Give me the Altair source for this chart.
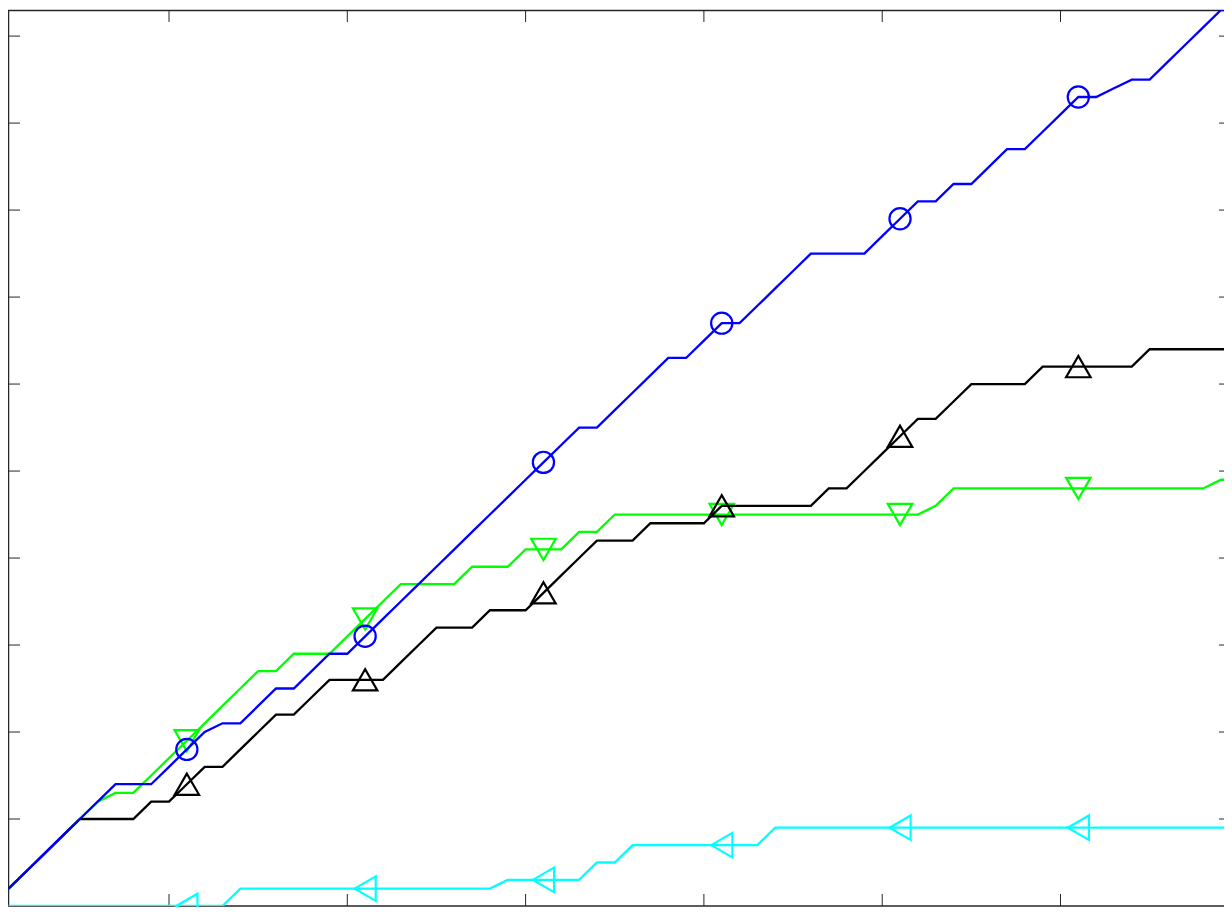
import altair as alt
import pandas as pd

# ---------------- data ----------------
x_vals = list(range(1, 71))

blue_vals = [1, 2, 3, 4, 5, 6, 7, 7, 7, 8,
             9, 10, 10.5, 10.5, 11.5, 12.5, 12.5, 13.5, 14.5, 14.5,
             15.5, 16.5, 17.5, 18.5, 19.5, 20.5, 21.5, 22.5, 23.5, 24.5,
             25.5, 26.5, 27.5, 27.5, 28.5, 29.5, 30.5, 31.5, 31.5, 32.5,
             33.5, 33.5, 34.5, 35.5, 36.5, 37.5, 37.5, 37.5, 37.5, 38.5,
             39.5, 40.5, 40.5, 41.5, 41.5, 42.5, 43.5, 43.5, 44.5, 45.5,
             46.5, 46.5, 47, 47.5, 47.5, 48.5, 49.5, 50.5, 51.5, 51.5]

black_vals = [1, 2, 3, 4, 5, 5, 5, 5, 6, 6,
              7, 8, 8, 9, 10, 11, 11, 12, 13, 13,
              13, 13, 14, 15, 16, 16, 16, 17, 17, 17,
              18, 19, 20, 21, 21, 21, 22, 22, 22, 22,
              23, 23, 23, 23, 23, 23, 24, 24, 25, 26,
              27, 28, 28, 29, 30, 30, 30, 30, 31, 31,
              31, 31, 31, 31, 32, 32, 32, 32, 32, 32]

green_vals = [1, 2, 3, 4, 5, 6, 6.5, 6.5, 7.5, 8.5,
              9.5, 10.5, 11.5, 12.5, 13.5, 13.5, 14.5, 14.5, 14.5, 15.5,
              16.5, 17.5, 18.5, 18.5, 18.5, 18.5, 19.5, 19.5, 19.5, 20.5,
              20.5, 20.5, 21.5, 21.5, 22.5, 22.5, 22.5, 22.5, 22.5, 22.5,
              22.5, 22.5, 22.5, 22.5, 22.5, 22.5, 22.5, 22.5, 22.5, 22.5,
              22.5, 22.5, 23, 24, 24, 24, 24, 24, 24, 24,
              24, 24, 24, 24, 24, 24, 24, 24, 24.5, 24.5]

cyan_vals = [0, 0, 0, 0, 0, 0, 0, 0, 0, 0,
             0, 0, 0, 1, 1, 1, 1, 1, 1, 1,
             1, 1, 1, 1, 1, 1, 1, 1, 1.5, 1.5,
             1.5, 1.5, 1.5, 2.5, 2.5, 3.5, 3.5, 3.5, 3.5, 3.5,
             3.5, 3.5, 3.5, 4.5, 4.5, 4.5, 4.5, 4.5, 4.5, 4.5,
             4.5, 4.5, 4.5, 4.5, 4.5, 4.5, 4.5, 4.5, 4.5, 4.5,
             4.5, 4.5, 4.5, 4.5, 4.5, 4.5, 4.5, 4.5, 4.5, 4.5]

marker_x = [11, 21, 31, 41, 51, 61]
x_ticks = [10, 20, 30, 40, 50, 60]
y_ticks = [5, 10, 15, 20, 25, 30, 35, 40, 45, 50]

# ---------------- layout ----------------
W, H = 1216, 896          # plot area (whole page fits the 1232x915 window)
TICK = 12
xs = alt.Scale(domain=[0.97, 0.97 + W / 17.83], nice=False, zero=False)
ys = alt.Scale(domain=[0, 51.5], nice=False, zero=False)
frame_col = "#262626"

one = pd.DataFrame({"k": [0]})
frame = [
    alt.Chart(one).mark_rule(color=frame_col, strokeWidth=1.6).encode(
        x=alt.value(0), x2=alt.value(W), y=alt.value(0.5)),
    alt.Chart(one).mark_rule(color=frame_col, strokeWidth=1.3).encode(
        x=alt.value(0), x2=alt.value(W), y=alt.value(H)),
    alt.Chart(one).mark_rule(color=frame_col, strokeWidth=1.3).encode(
        x=alt.value(0.6), y=alt.value(0), y2=alt.value(H)),
]

xt = pd.DataFrame({"v": x_ticks})
yt = pd.DataFrame({"v": y_ticks})
ticks = [
    alt.Chart(xt).mark_rule(color=frame_col, strokeWidth=1).encode(
        x=alt.X("v:Q", scale=xs, axis=None), y=alt.value(H - TICK), y2=alt.value(H)),
    alt.Chart(xt).mark_rule(color=frame_col, strokeWidth=1).encode(
        x=alt.X("v:Q", scale=xs, axis=None), y=alt.value(0), y2=alt.value(TICK)),
    alt.Chart(yt).mark_rule(color=frame_col, strokeWidth=1).encode(
        y=alt.Y("v:Q", scale=ys, axis=None), x=alt.value(0), x2=alt.value(TICK)),
    alt.Chart(yt).mark_rule(color=frame_col, strokeWidth=1).encode(
        y=alt.Y("v:Q", scale=ys, axis=None), x=alt.value(W - 5), x2=alt.value(W)),
]


def series_layers(vals, color, shape, size):
    df = pd.DataFrame({"x": x_vals, "y": vals})
    base = alt.Chart(df)
    enc = dict(x=alt.X("x:Q", scale=xs, axis=None),
               y=alt.Y("y:Q", scale=ys, axis=None))
    line = base.mark_line(color=color, strokeWidth=2.3, clip=True).encode(**enc)
    pts = base.transform_filter(
        alt.FieldOneOfPredicate(field="x", oneOf=marker_x)
    ).mark_point(shape=shape, filled=False, color=color, strokeWidth=2.2,
                 size=size, opacity=1).encode(**enc)
    return [line, pts]


layers = frame + ticks
layers += series_layers(cyan_vals, "#00ffff", "triangle-left", 600)
layers += series_layers(green_vals, "#00ff00", "triangle-down", 600)
layers += series_layers(black_vals, "#000000", "triangle-up", 600)
layers += series_layers(blue_vals, "#0000ff", "circle", 450)

chart = alt.layer(*layers).properties(
    width=W, height=H,
    padding={"left": 0, "top": 2, "right": 0, "bottom": 1},
    autosize=alt.AutoSizeParams(type="none"),
    background="white",
).configure_view(stroke=None)

chart.save("out.html", embed_options={"renderer": "svg", "actions": False})
